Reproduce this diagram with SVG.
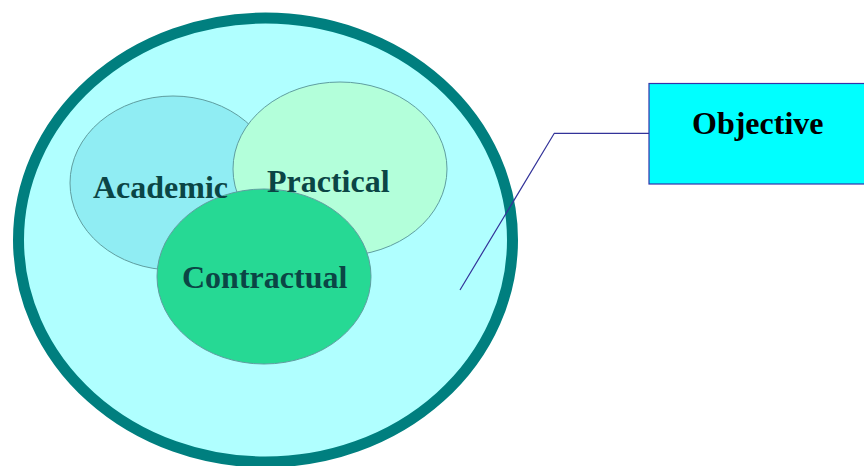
<svg xmlns="http://www.w3.org/2000/svg" width="864" height="466" viewBox="0 0 864 466">
<style>
.set{stroke:#5F9EA0;stroke-width:1}
.lbl{font-family:"Liberation Serif",serif;font-weight:bold;font-size:32px;fill:#0B4545}
.obj{font-family:"Liberation Serif",serif;font-weight:bold;font-size:32px;fill:#000}
</style>
<rect width="864" height="466" fill="#fff"/>
<g id="outer"><ellipse cx="265.5" cy="240" rx="247" ry="222" fill="#B0FFFF" stroke="#007F7F" stroke-width="11"/></g>
<g id="academic"><ellipse class="set" cx="173" cy="183" rx="103" ry="87" fill="#90EDF3"/></g>
<g id="practical"><ellipse class="set" cx="340" cy="169" rx="107" ry="87" fill="#B3FFDA"/></g>
<g id="contractual"><ellipse class="set" cx="264" cy="276.5" rx="107" ry="87.5" fill="#26D994"/></g>
<g id="labels">
<text class="lbl" x="93" y="198">Academic</text>
<text class="lbl" x="267" y="192">Practical</text>
<text class="lbl" x="182" y="288">Contractual</text>
</g>
<g id="connectors"><polyline points="649,133.3 554.3,133.3 460,290" fill="none" stroke="#333399" stroke-width="1.2"/></g>
<g id="objective"><rect x="649" y="83.5" width="220" height="100.5" fill="#00FFFF" stroke="#3333AA" stroke-width="1.2"/><text class="obj" x="692" y="134">Objective</text></g>
</svg>
